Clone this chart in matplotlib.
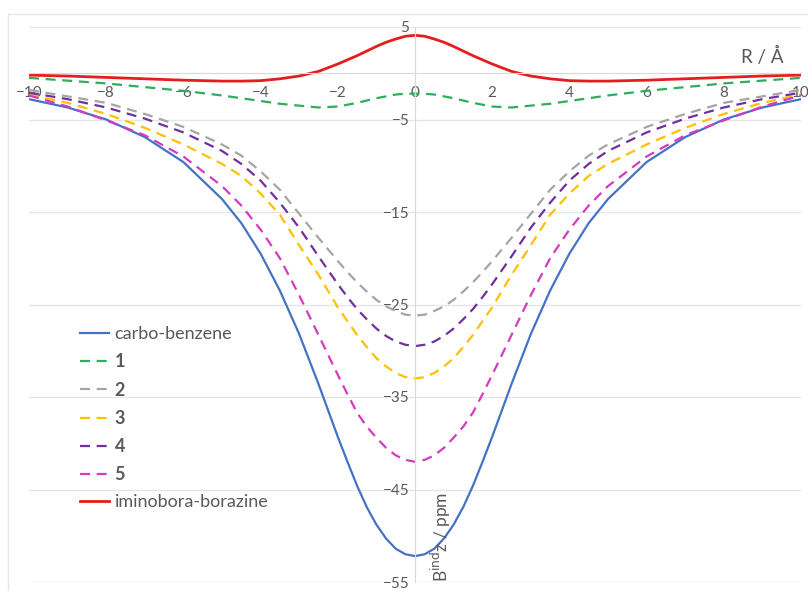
import numpy as np
import matplotlib
matplotlib.use('Agg')
import matplotlib.pyplot as plt
from matplotlib.patches import Rectangle

plt.rcParams['font.family'] = ['Lato', 'DejaVu Sans']

# R / Angstrom
R = [-10, -9, -8, -7, -6, -5, -4.5, -4, -3.5, -3, -2.5, -2, -1.75, -1.5, -1.25, -1, -0.75, -0.5, -0.25, 0,
     0.25, 0.5, 0.75, 1, 1.25, 1.5, 1.75, 2, 2.5, 3, 3.5, 4, 4.5, 5, 6, 7, 8, 9, 10]

carbo_benzene = [-2.8, -3.7, -5.0, -6.9, -9.6, -13.6, -16.2, -19.5, -23.5, -28.2, -33.6, -39.3, -42.0, -44.6,
                 -46.9, -48.8, -50.3, -51.4, -52.0, -52.2,
                 -52.0, -51.4, -50.3, -48.8, -46.9, -44.6, -42.0, -39.3, -33.6, -28.2, -23.5, -19.5, -16.2,
                 -13.6, -9.6, -6.9, -5.0, -3.7, -2.8]
s1 = [-0.5, -0.8, -1.1, -1.5, -1.9, -2.4, -2.7, -3.0, -3.3, -3.5, -3.7, -3.6, -3.4, -3.2,
      -2.95, -2.7, -2.5, -2.3, -2.22, -2.2,
      -2.22, -2.3, -2.5, -2.7, -2.95, -3.2, -3.4, -3.6, -3.7, -3.5, -3.3, -3.0, -2.7,
      -2.4, -1.9, -1.5, -1.1, -0.8, -0.5]
s2 = [-1.8, -2.5, -3.2, -4.4, -5.8, -7.7, -8.9, -10.6, -12.6, -15.2, -17.8, -20.3, -21.5, -22.6,
      -23.6, -24.5, -25.2, -25.7, -26.1, -26.2,
      -26.1, -25.7, -25.2, -24.5, -23.6, -22.6, -21.5, -20.3, -17.8, -15.2, -12.6, -10.6, -8.9,
      -7.7, -5.8, -4.4, -3.2, -2.5, -1.8]
s3 = [-2.3, -3.2, -4.4, -5.9, -7.7, -9.8, -11.1, -13.0, -15.3, -18.6, -21.8, -25.3, -26.8, -28.3,
      -29.6, -30.8, -31.7, -32.4, -32.85, -33.0,
      -32.85, -32.4, -31.7, -30.8, -29.6, -28.3, -26.8, -25.3, -21.8, -18.6, -15.3, -13.0, -11.1,
      -9.8, -7.7, -5.9, -4.4, -3.2, -2.3]
s4 = [-2.1, -2.8, -3.7, -4.9, -6.4, -8.4, -9.8, -11.6, -14.0, -16.7, -19.8, -22.8, -24.2, -25.5,
      -26.6, -27.6, -28.4, -29.0, -29.35, -29.5,
      -29.35, -29.0, -28.4, -27.6, -26.6, -25.5, -24.2, -22.8, -19.8, -16.7, -14.0, -11.6, -9.8,
      -8.4, -6.4, -4.9, -3.7, -2.8, -2.1]
s5 = [-2.4, -3.6, -5.1, -6.7, -9.0, -12.2, -14.3, -16.9, -20.0, -24.0, -28.3, -32.6, -34.7, -36.7,
      -38.2, -39.4, -40.5, -41.3, -41.8, -42.0,
      -41.8, -41.3, -40.5, -39.4, -38.2, -36.7, -34.7, -32.6, -28.3, -24.0, -20.0, -16.9, -14.3,
      -12.2, -9.0, -6.7, -5.1, -3.6, -2.4]
iminobora_borazine = [-0.2, -0.3, -0.45, -0.6, -0.75, -0.85, -0.85, -0.8, -0.6, -0.3, 0.2, 1.0, 1.45, 1.9,
                      2.4, 2.9, 3.35, 3.7, 4.0, 4.1,
                      4.0, 3.7, 3.35, 2.9, 2.4, 1.9, 1.45, 1.0, 0.2, -0.3, -0.6, -0.8, -0.85,
                      -0.85, -0.75, -0.6, -0.45, -0.3, -0.2]

fig = plt.figure(figsize=(8.08, 5.91), dpi=100)
ax = fig.add_axes([29 / 808, 1 - 582 / 591, 772 / 808, 555 / 591])

# light chart border like the Excel chart area
fig.patches.append(Rectangle((8 / 808, -0.1), 1.2, 1 - 14 / 591 + 0.1, transform=fig.transFigure,
                             fill=False, edgecolor='#E8E8E8', linewidth=1))

dash = (4.5, 3)
ax.plot(R, carbo_benzene, color='#4472C4', lw=1.6, label='carbo-benzene')
ax.plot(R, s1, color='#2EAD5B', lw=1.6, dashes=dash, label='1')
ax.plot(R, s2, color='#A5A5A5', lw=1.6, dashes=dash, label='2')
ax.plot(R, s3, color='#FFC000', lw=1.6, dashes=dash, label='3')
ax.plot(R, s4, color='#7030A0', lw=1.6, dashes=dash, label='4')
ax.plot(R, s5, color='#D63ABF', lw=1.6, dashes=dash, label='5')
ax.plot(R, iminobora_borazine, color='#E41E1E', lw=2.0, label='iminobora-borazine')

ax.set_xlim(-10, 10)
ax.set_ylim(-55, 5)
ax.set_xticks(np.arange(-10, 11, 2))
ax.set_yticks(np.arange(-55, 6, 10))
ax.yaxis.grid(True, color='#E6E6E6', lw=1)
ax.set_axisbelow(True)

for side in ['top', 'right']:
    ax.spines[side].set_visible(False)
ax.spines['left'].set_position(('data', 0))
ax.spines['bottom'].set_position(('data', 0))
ax.spines['left'].set_color('#D9D9D9')
ax.spines['bottom'].set_color('#D9D9D9')
ax.tick_params(length=0, labelsize=11, colors='#595959')
ax.tick_params(axis='x', pad=9)
ax.tick_params(axis='y', pad=4)
ax.patch.set_alpha(0)

ax.text(9.0, 1.85, 'R / Å', fontsize=13.5, color='#595959', ha='center', va='center')
ax.text(0.67, -50.1, r'B$^{\mathrm{ind}}$z / ppm', fontsize=12.5, color='#595959',
        ha='center', va='center', rotation=90)

leg = ax.legend(loc='upper left', bbox_to_anchor=(64 / 808, 1 - 310 / 591), bbox_transform=fig.transFigure,
                frameon=False, fontsize=13, handlelength=1.6, handletextpad=0.3, labelspacing=0.62)
for t in leg.get_texts():
    t.set_color('#595959')
for t in leg.get_texts()[1:6]:
    t.set_fontweight('bold')

plt.savefig('out.png', dpi=100)
